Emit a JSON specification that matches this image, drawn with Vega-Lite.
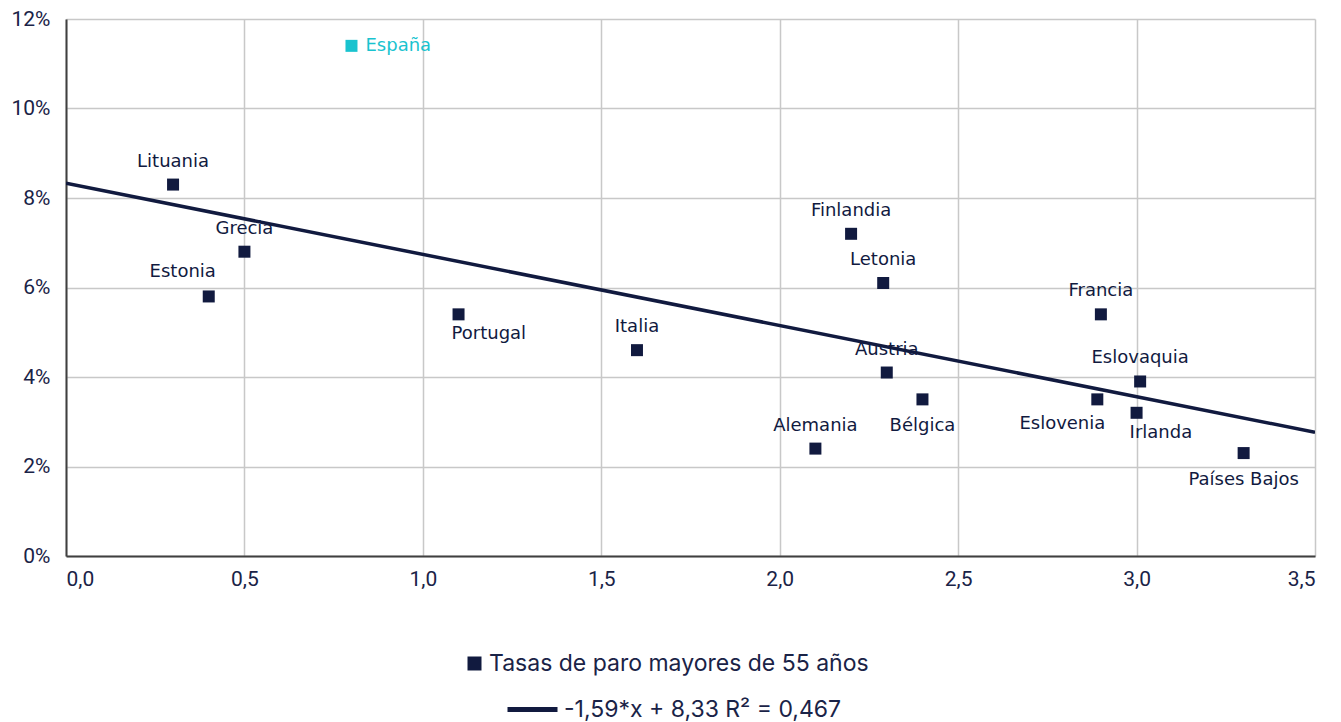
{
  "$schema": "https://vega.github.io/schema/vega-lite/v6.json",
  "width": 1249,
  "height": 537,
  "autosize": {"type": "none"},
  "padding": {"left": 66, "top": 19, "right": 26, "bottom": 166},
  "background": "white",
  "config": {
    "view": {"stroke": null},
    "axis": {
      "gridColor": "#c8c8c8",
      "gridWidth": 1.5,
      "domainColor": "#404040",
      "domainWidth": 2,
      "ticks": false,
      "labelColor": "#1a2347",
      "labelFont": "Roboto",
      "labelFontSize": 21,
      "title": null
    },
    "legend": {"padding": 0}
  },
  "datasets": {
    "paises": [
      {"pais": "España", "x": 0.8, "y": 11.4},
      {"pais": "Lituania", "x": 0.3, "y": 8.3},
      {"pais": "Grecia", "x": 0.5, "y": 6.8},
      {"pais": "Estonia", "x": 0.4, "y": 5.8},
      {"pais": "Portugal", "x": 1.1, "y": 5.4},
      {"pais": "Italia", "x": 1.6, "y": 4.6},
      {"pais": "Finlandia", "x": 2.2, "y": 7.2},
      {"pais": "Letonia", "x": 2.29, "y": 6.1},
      {"pais": "Francia", "x": 2.9, "y": 5.4},
      {"pais": "Austria", "x": 2.3, "y": 4.1},
      {"pais": "Bélgica", "x": 2.4, "y": 3.5},
      {"pais": "Alemania", "x": 2.1, "y": 2.4},
      {"pais": "Eslovenia", "x": 2.89, "y": 3.5},
      {"pais": "Eslovaquia", "x": 3.01, "y": 3.9},
      {"pais": "Irlanda", "x": 3.0, "y": 3.2},
      {"pais": "Países Bajos", "x": 3.3, "y": 2.3}
    ],
    "tendencia": [
      {"x": 0, "y": 8.33},
      {"x": 3.5, "y": 2.765}
    ]
  },
  "layer": [
    {
      "data": {"name": "tendencia"},
      "mark": {"type": "line", "strokeWidth": 3.5, "clip": true},
      "encoding": {
        "x": {
          "field": "x", "type": "quantitative",
          "scale": {"domain": [0, 3.5], "nice": false},
          "axis": {"values": [0, 0.5, 1, 1.5, 2, 2.5, 3, 3.5], "labelExpr": "replace(format(datum.value, '.1f'), '.', ',')", "labelPadding": 12}
        },
        "y": {
          "field": "y", "type": "quantitative",
          "scale": {"domain": [0, 12], "nice": false},
          "axis": {"values": [0, 2, 4, 6, 8, 10, 12], "labelExpr": "datum.value + '%'", "labelPadding": 16}
        },
        "color": {
          "datum": "-1,59*x + 8,33 R² = 0,467",
          "type": "nominal",
          "scale": {"range": ["#111a3f"]},
          "legend": {
            "orient": "none", "legendX": 439, "legendY": 663,
            "title": null, "symbolType": "stroke", "symbolSize": 2500,
            "symbolStrokeWidth": 5, "symbolStrokeColor": "#111a3f",
            "labelFont": "Inter", "labelFontSize": 23, "labelColor": "#1a2347",
            "labelOffset": 4, "labelLimit": 600
          }
        }
      }
    },
    {
      "data": {"name": "paises"},
      "mark": {"type": "point", "filled": true, "opacity": 1, "size": 144},
      "encoding": {
        "x": {"field": "x", "type": "quantitative"},
        "y": {"field": "y", "type": "quantitative"},
        "shape": {
          "datum": "Tasas de paro mayores de 55 años",
          "type": "nominal",
          "scale": {"range": ["square"]},
          "legend": {
            "orient": "none", "legendX": 397, "legendY": 633,
            "title": null, "symbolSize": 196,
            "symbolFillColor": "#111a3f", "symbolStrokeColor": "#111a3f", "symbolStrokeWidth": 0,
            "labelFont": "Inter", "labelFontSize": 23, "labelColor": "#1a2347",
            "labelOffset": 3, "labelLimit": 600
          }
        },
        "fill": {"condition": {"test": "datum.pais === 'España'", "value": "#19c3cf"}, "value": "#111a3f"}
      }
    },
    {
      "data": {"name": "paises"},
      "transform": [{"filter": "indexof(['Lituania','Grecia','Italia','Finlandia','Letonia','Francia','Austria','Eslovaquia','Alemania'], datum.pais) >= 0"}],
      "mark": {"type": "text", "align": "center", "baseline": "middle", "dy": -23, "font": "DejaVu Sans", "fontSize": 18, "color": "#111a3f"},
      "encoding": {"x": {"field": "x", "type": "quantitative"}, "y": {"field": "y", "type": "quantitative"}, "text": {"field": "pais"}}
    },
    {
      "data": {"name": "paises"},
      "transform": [{"filter": "datum.pais === 'Estonia'"}],
      "mark": {"type": "text", "align": "center", "baseline": "middle", "dx": -26, "dy": -24, "font": "DejaVu Sans", "fontSize": 18, "color": "#111a3f"},
      "encoding": {"x": {"field": "x", "type": "quantitative"}, "y": {"field": "y", "type": "quantitative"}, "text": {"field": "pais"}}
    },
    {
      "data": {"name": "paises"},
      "transform": [{"filter": "datum.pais === 'Bélgica' || datum.pais === 'Países Bajos'"}],
      "mark": {"type": "text", "align": "center", "baseline": "middle", "dy": 27, "font": "DejaVu Sans", "fontSize": 18, "color": "#111a3f"},
      "encoding": {"x": {"field": "x", "type": "quantitative"}, "y": {"field": "y", "type": "quantitative"}, "text": {"field": "pais"}}
    },
    {
      "data": {"name": "paises"},
      "transform": [{"filter": "datum.pais === 'Portugal' || datum.pais === 'Irlanda'"}],
      "mark": {"type": "text", "align": "left", "baseline": "middle", "dx": -7, "dy": 20, "font": "DejaVu Sans", "fontSize": 18, "color": "#111a3f"},
      "encoding": {"x": {"field": "x", "type": "quantitative"}, "y": {"field": "y", "type": "quantitative"}, "text": {"field": "pais"}}
    },
    {
      "data": {"name": "paises"},
      "transform": [{"filter": "datum.pais === 'Eslovenia'"}],
      "mark": {"type": "text", "align": "right", "baseline": "middle", "dx": 8, "dy": 25, "font": "DejaVu Sans", "fontSize": 18, "color": "#111a3f"},
      "encoding": {"x": {"field": "x", "type": "quantitative"}, "y": {"field": "y", "type": "quantitative"}, "text": {"field": "pais"}}
    },
    {
      "data": {"name": "paises"},
      "transform": [{"filter": "datum.pais === 'España'"}],
      "mark": {"type": "text", "align": "left", "baseline": "middle", "dx": 14, "dy": 0, "font": "DejaVu Sans", "fontSize": 18, "color": "#19c3cf"},
      "encoding": {"x": {"field": "x", "type": "quantitative"}, "y": {"field": "y", "type": "quantitative"}, "text": {"field": "pais"}}
    }
  ]
}
